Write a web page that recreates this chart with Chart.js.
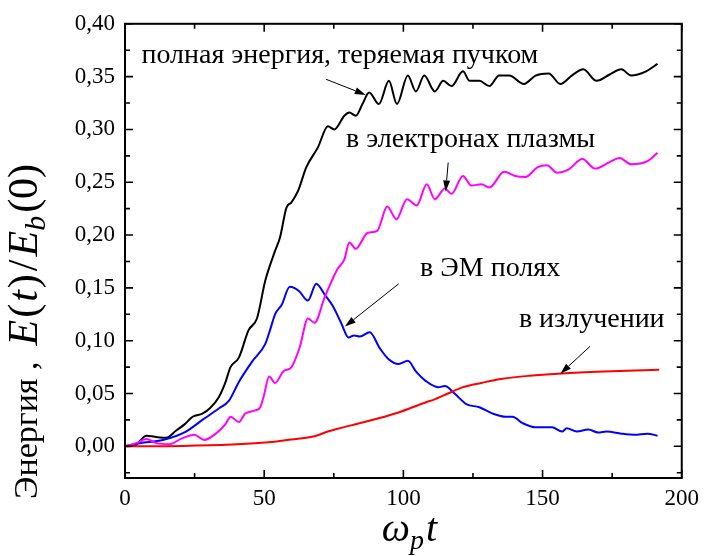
<!DOCTYPE html>
<html>
<head>
<meta charset="utf-8">
<script src="https://cdn.jsdelivr.net/npm/chart.js@4.4.1/dist/chart.umd.min.js"></script>
<style>
  body { margin: 0; background: #fff; }
  canvas { display: block; }
</style>
</head>
<body>
<canvas id="grafico" width="706" height="556"></canvas>
<script>
// полная энергия, теряемая пучком
const tBeam = [0, 3.6, 7.7, 10.7, 14.8, 18.4, 21.5, 24.3, 27.8, 30.5, 33.8, 36, 37.9, 40.9, 44.4, 47.4, 50.4, 53.9, 55.7, 58.0,
  59.8, 62.2, 65.1, 69.3, 72.9, 75.2, 78.8, 80.6, 82.9, 85.3, 87.7, 91.2, 94.8, 97.7, 101.6, 104.5, 107.5, 111.3, 114.3, 117.3,
  121.4, 123.8, 127.3, 130.9, 134.4, 138.0, 143.3, 147.5, 152.2, 156.4, 160.5, 164.6, 169.4, 174.1, 178.3, 181.8, 187.2, 191.3];
const eBeam = [0, 0.001, 0.010, 0.009, 0.008, 0.015, 0.021, 0.028, 0.031, 0.036, 0.047, 0.060, 0.075, 0.084, 0.110, 0.121, 0.157, 0.185, 0.198, 0.226,
  0.231, 0.242, 0.264, 0.283, 0.303, 0.300, 0.313, 0.316, 0.313, 0.324, 0.335, 0.324, 0.346, 0.324, 0.351, 0.336, 0.351, 0.336, 0.346, 0.341,
  0.355, 0.346, 0.346, 0.341, 0.351, 0.351, 0.343, 0.351, 0.353, 0.343, 0.351, 0.357, 0.346, 0.352, 0.357, 0.351, 0.355, 0.362];

// в электронах плазмы
const tPlasma = [0, 4, 7.7, 11.3, 16, 20.1, 24.9, 28.4, 32.6, 36.1, 37.9, 40.9, 43.2, 46.8, 48.6, 49.8, 51.8, 53.9, 56.9, 59.8,
  62.8, 65.7, 68.1, 71.7, 74, 76.4, 78.8, 80.6, 82.9, 87.1, 90.6, 94.2, 97.5, 101.3, 104.8, 108.4, 111.3, 114.9, 117.3, 121.4,
  124.4, 128, 130.9, 136.2, 140.1, 143.9, 148.1, 151.6, 155.2, 159.3, 164.3, 168.8, 174.1, 177.7, 181.8, 187.7, 191.3];
const ePlasma = [0, 0.003, 0.007, 0.003, 0.002, 0.007, 0.011, 0.006, 0.012, 0.021, 0.028, 0.023, 0.031, 0.034, 0.037, 0.047, 0.066, 0.060, 0.071, 0.075,
  0.094, 0.121, 0.117, 0.141, 0.155, 0.168, 0.177, 0.193, 0.187, 0.202, 0.204, 0.227, 0.215, 0.234, 0.228, 0.248, 0.234, 0.244, 0.239, 0.256,
  0.247, 0.248, 0.245, 0.260, 0.256, 0.255, 0.264, 0.266, 0.259, 0.262, 0.272, 0.263, 0.269, 0.273, 0.267, 0.270, 0.278];

// в ЭМ полях
const tField = [0, 5.3, 13.6, 21.9, 27.8, 33.8, 37.3, 40.9, 45.6, 50.4, 52.1, 53.9, 56.3, 59.2, 62.5, 65.7, 68.7, 71.9, 74.6, 77.6,
  80.3, 82.3, 84.4, 87.9, 91.5, 94.5, 98.3, 101.6, 104.5, 108.0, 112.5, 114.9, 118.4, 122.6, 127.3, 132.1, 136.8, 139.2, 142.8, 147.5,
  153.4, 157, 158.7, 162.3, 166.4, 170, 173, 178.3, 183, 187.7, 191.3];
const eField = [0, 0.003, 0.006, 0.014, 0.025, 0.036, 0.043, 0.061, 0.080, 0.097, 0.110, 0.125, 0.134, 0.151, 0.147, 0.138, 0.154, 0.143, 0.133, 0.117,
  0.103, 0.105, 0.104, 0.108, 0.093, 0.083, 0.078, 0.081, 0.071, 0.062, 0.056, 0.057, 0.050, 0.040, 0.037, 0.031, 0.028, 0.028, 0.022, 0.018,
  0.018, 0.014, 0.017, 0.014, 0.016, 0.013, 0.014, 0.012, 0.011, 0.012, 0.010];

// в излучении
const tRad = [0, 20.7, 38.5, 50.4, 57.5, 68.1, 72.9, 76.4, 85.3, 97.7, 108.4, 110.8, 116, 121.4, 128, 135.6, 146.3, 157, 174.7, 191.9];
const eRad = [0, 0.0003, 0.0016, 0.0035, 0.0057, 0.0095, 0.014, 0.0167, 0.0225, 0.0315, 0.042, 0.044, 0.050, 0.056, 0.060, 0.064, 0.067, 0.069, 0.071, 0.0725];

const xTicks = [0, 50, 100, 150, 200];
const xMinor = [25, 75, 125, 175];
const yTicks = [0, 0.05, 0.10, 0.15, 0.20, 0.25, 0.30, 0.35, 0.40];
const yMinor = [-0.025, 0.025, 0.075, 0.125, 0.175, 0.225, 0.275, 0.325, 0.375];

const serif = '"Liberation Serif", "DejaVu Serif", serif';

// подписи со стрелками (в координатах данных)
const notes = [
  { text: 'полная энергия, теряемая пучком', x: 5.9, y: 0.363, from: [72.2, 0.3475], to: [86.5, 0.3327] },
  { text: 'в электронах плазмы', x: 79.4, y: 0.283, from: [116.1, 0.2687], to: [115.2, 0.2413] },
  { text: 'в ЭМ полях', x: 106.0, y: 0.1616, from: [98.3, 0.1538], to: [79.0, 0.1134] },
  { text: 'в излучении', x: 141.5, y: 0.1134, from: [167.0, 0.0945], to: [156.4, 0.0687] }
];

function puntos(xs, ys) {
  return xs.map((x, i) => ({ x: x, y: ys[i] }));
}

function serie(xs, ys, color) {
  return {
    data: puntos(xs, ys),
    borderColor: color,
    borderWidth: 2,
    pointRadius: 0,
    fill: false,
    cubicInterpolationMode: 'monotone'
  };
}

// текст из кусков разного начертания; gap — добавочный отступ после куска
function drawRich(ctx, parts, x, y) {
  let cx = x;
  parts.forEach(p => {
    ctx.font = p.font;
    ctx.fillText(p.text, cx, y + (p.dy || 0));
    cx += ctx.measureText(p.text).width + (p.gap || 0);
  });
}

function richWidth(ctx, parts) {
  let w = 0;
  parts.forEach(p => {
    ctx.font = p.font;
    w += ctx.measureText(p.text).width + (p.gap || 0);
  });
  return w;
}

function arrow(ctx, x1, y1, x2, y2) {
  const ang = Math.atan2(y2 - y1, x2 - x1);
  const len = 11, half = 3.5;
  const bx = x2 - len * Math.cos(ang), by = y2 - len * Math.sin(ang);
  ctx.beginPath();
  ctx.moveTo(x1, y1);
  ctx.lineTo(bx, by);
  ctx.lineWidth = 1;
  ctx.stroke();
  ctx.beginPath();
  ctx.moveTo(x2, y2);
  ctx.lineTo(bx + half * Math.sin(ang), by - half * Math.cos(ang));
  ctx.lineTo(bx - half * Math.sin(ang), by + half * Math.cos(ang));
  ctx.closePath();
  ctx.fill();
}

// рамка, засечки внутрь, подписи осей и аннотации
const marco = {
  id: 'marco',
  afterDraw(chart) {
    const ctx = chart.ctx;
    const a = chart.chartArea;
    const sx = chart.scales.x, sy = chart.scales.y;
    ctx.save();
    ctx.strokeStyle = '#000';
    ctx.fillStyle = '#000';

    ctx.lineWidth = 2;
    ctx.strokeRect(a.left, a.top, a.right - a.left, a.bottom - a.top);

    ctx.lineWidth = 1.6;
    ctx.beginPath();
    xTicks.concat(xMinor).forEach(v => {
      const px = sx.getPixelForValue(v);
      const l = xTicks.includes(v) ? 8 : 5;
      ctx.moveTo(px, a.bottom); ctx.lineTo(px, a.bottom - l);
      ctx.moveTo(px, a.top); ctx.lineTo(px, a.top + l);
    });
    yTicks.concat(yMinor).forEach(v => {
      const py = sy.getPixelForValue(v);
      const l = yTicks.includes(v) ? 8 : 5;
      ctx.moveTo(a.left, py); ctx.lineTo(a.left + l, py);
      ctx.moveTo(a.right, py); ctx.lineTo(a.right - l, py);
    });
    ctx.stroke();

    // аннотации
    ctx.textBaseline = 'alphabetic';
    ctx.textAlign = 'left';
    notes.forEach(n => {
      ctx.font = '28px ' + serif;
      ctx.fillText(n.text, sx.getPixelForValue(n.x), sy.getPixelForValue(n.y));
      arrow(ctx, sx.getPixelForValue(n.from[0]), sy.getPixelForValue(n.from[1]),
        sx.getPixelForValue(n.to[0]), sy.getPixelForValue(n.to[1]));
    });

    // подпись оси X: ω_p t
    const it = 'italic 40px ' + serif;
    const xt = [
      { text: 'ω', font: it },
      { text: 'p', font: 'italic 28px ' + serif, dy: 8, gap: 2 },
      { text: 't', font: it }
    ];
    const cxm = (a.left + a.right) / 2 + 6;
    drawRich(ctx, xt, cxm - richWidth(ctx, xt) / 2, 541);

    // подпись оси Y
    const rm = '34px ' + serif;
    const mi = 'italic 42px ' + serif;
    const mr = '42px ' + serif;
    const yt = [
      { text: 'Энергия ,', font: rm, gap: 16 },
      { text: 'E', font: mi, gap: 2 },
      { text: '(', font: mr, gap: 2 },
      { text: 't', font: mi, gap: 2 },
      { text: ')', font: mr, gap: 3 },
      { text: '/', font: mr, gap: 3 },
      { text: 'E', font: mi },
      { text: 'b', font: 'italic 30px ' + serif, dy: 8, gap: 3 },
      { text: '(0)', font: mr }
    ];
    ctx.translate(37, 499);
    ctx.rotate(-Math.PI / 2);
    drawRich(ctx, yt, 0, 0);
    ctx.restore();
  }
};

const ctx = document.getElementById('grafico').getContext('2d');
new Chart(ctx, {
  type: 'line',
  data: {
    datasets: [
      serie(tRad, eRad, '#ff0000'),
      serie(tPlasma, ePlasma, '#ff00ff'),
      serie(tField, eField, '#0000ff'),
      serie(tBeam, eBeam, '#000000')
    ]
  },
  options: {
    responsive: false,
    animation: false,
    layout: { padding: { left: 0, top: 23, right: 18, bottom: 0 } },
    plugins: { legend: { display: false }, tooltip: { enabled: false } },
    scales: {
      x: {
        type: 'linear',
        min: 0,
        max: 200,
        afterBuildTicks: s => { s.ticks = xTicks.map(v => ({ value: v })); },
        afterFit: s => { s.height = 78; },
        grid: { display: false, drawTicks: false },
        border: { display: false },
        ticks: { color: '#000', padding: 7, maxRotation: 0, font: { family: serif, size: 23 } }
      },
      y: {
        type: 'linear',
        min: -0.03,
        max: 0.40,
        afterBuildTicks: s => { s.ticks = yTicks.map(v => ({ value: v })); },
        afterFit: s => { s.width = 125; },
        grid: { display: false, drawTicks: false },
        border: { display: false },
        ticks: {
          color: '#000',
          padding: 10,
          font: { family: serif, size: 23 },
          callback: v => v.toFixed(2).replace('.', ',')
        }
      }
    }
  },
  plugins: [marco]
});
</script>
</body>
</html>
